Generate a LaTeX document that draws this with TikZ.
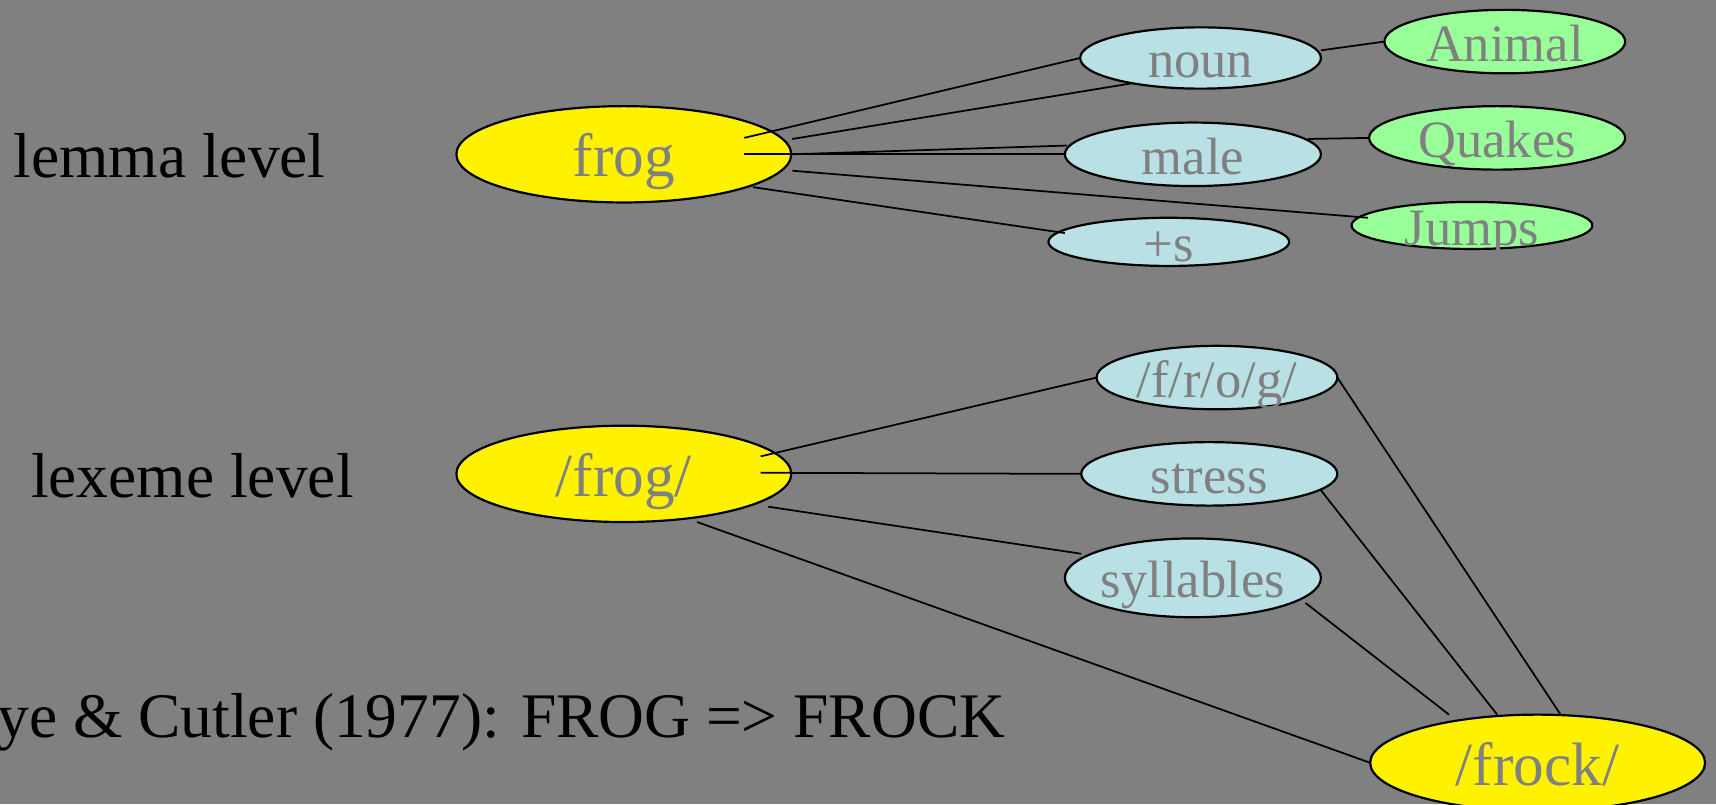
\documentclass[tikz,border=0pt]{standalone}
\usepackage{fontspec}
\setmainfont{Liberation Serif}
\usetikzlibrary{shapes.geometric,calc}
\definecolor{bg}{RGB}{128,128,128}
\definecolor{inktext}{RGB}{128,128,128}
\definecolor{lblue}{RGB}{185,224,229}
\definecolor{lgreen}{RGB}{153,255,153}
\begin{document}
\begin{tikzpicture}[x=0.5pt,y=-0.5pt,
  ell/.style={ellipse,draw=black,line width=1pt,text=inktext,inner xsep=-2pt,inner ysep=-4pt,outer sep=0pt},
  bigell/.style={ell,fill=yellow,font=\fontsize{28}{30}\selectfont,text height=20.6pt,text depth=0pt,minimum width=153pt,minimum height=44pt},
  smallell/.style={ell,font=\fontsize{24}{26}\selectfont,text height=18pt,text depth=0pt},
  blueell/.style={smallell,fill=lblue},
  greenell/.style={smallell,fill=lgreen},
  lab/.style={font=\fontsize{29}{31}\selectfont,text=black,inner sep=0pt},
  conn/.style={draw=black,line width=0.8pt}]
\useasboundingbox (0,0) rectangle (1568,734.67);
\fill[bg] (0,0) rectangle (1568,734.67);

% labels
\node[lab,anchor=base west] (lemma) at (12,162) {lemma level};
\node[lab,anchor=base west] (lexeme) at (28,455) {lexeme level};
\node[lab,anchor=base east] (fay) at (919,674) {Faye \& Cutler (1977): FROG => FROCK};

% lemma level nodes
\node[bigell] (frog) at (570,141) {frog};
\node[blueell,minimum width=110pt,minimum height=28pt] (noun) at (1097,53) {noun};
\node[blueell,minimum width=117pt,minimum height=29pt] (male) at (1090,141) {male};
\node[blueell,minimum width=110pt,minimum height=22pt] (plus) at (1068,221) {+s};
\node[greenell,minimum width=110pt,minimum height=29pt] (animal) at (1375,38) {Animal};
\node[greenell,minimum width=117pt,minimum height=29pt] (quakes) at (1368,126) {Quakes};
\node[greenell,minimum width=110pt,minimum height=21.5pt] (jumps) at (1345,206) {Jumps};

% lexeme level nodes
\node[bigell] (lfrog) at (570,433) {/frog/};
\node[blueell,minimum width=110pt,minimum height=29pt] (phon) at (1112,345) {/f/r/o/g/};
\node[blueell,minimum width=117pt,minimum height=29pt] (stress) at (1105,433) {stress};
\node[blueell,minimum width=117pt,minimum height=36pt] (syll) at (1090,528) {syllables};
\node[bigell] (frock) at (1405,697) {/frock/};

% connector end points
\coordinate (f1) at ($(frog.center)+(110,-15)$);
\coordinate (f2) at ($(frog.center)+(154,-14)$);
\coordinate (f3) at ($(frog.center)+(110,0)$);
\coordinate (f4) at ($(frog.center)+(154,15)$);
\coordinate (f5) at ($(frog.center)+(118,30)$);
\coordinate (n1) at ($(noun.center)+(-62,23)$);
\coordinate (n2) at ($(noun.center)+(110,-7)$);
\coordinate (m1) at ($(male.center)+(-115,-8)$);
\coordinate (m2) at ($(male.center)+(105,-14)$);
\coordinate (p1) at ($(plus.center)+(-95,-8)$);
\coordinate (j1) at ($(jumps.center)+(-95,-7)$);
\coordinate (g1) at ($(lfrog.center)+(125,-16)$);
\coordinate (g2) at ($(lfrog.center)+(125,-1)$);
\coordinate (g3) at ($(lfrog.center)+(132,30)$);
\coordinate (g4) at ($(lfrog.center)+(67,44)$);
\coordinate (s1) at ($(stress.center)+(102,15)$);
\coordinate (y1) at ($(syll.center)+(-102,-22)$);
\coordinate (y2) at ($(syll.center)+(103,23)$);
\coordinate (k1) at ($(frock.center)+(21,-44)$);
\coordinate (k2) at ($(frock.center)+(-37,-44)$);
\coordinate (k3) at ($(frock.center)+(-81,-44)$);

% lemma level connectors
\draw[conn] (f1) -- (noun.west);
\draw[conn] (f2) -- (n1);
\draw[conn] (f3) -- (male.west);
\draw[conn] (frog.east) -- (m1);
\draw[conn] (f4) -- (j1);
\draw[conn] (f5) -- (p1);
\draw[conn] (n2) -- (animal.west);
\draw[conn] (m2) -- (quakes.west);

% lexeme level connectors
\draw[conn] (g1) -- (phon.west);
\draw[conn] (g2) -- (stress.west);
\draw[conn] (g3) -- (y1);
\draw[conn] (g4) -- (frock.west);
\draw[conn] (phon.east) -- (k1);
\draw[conn] (s1) -- (k2);
\draw[conn] (y2) -- (k3);
\end{tikzpicture}
\end{document}
